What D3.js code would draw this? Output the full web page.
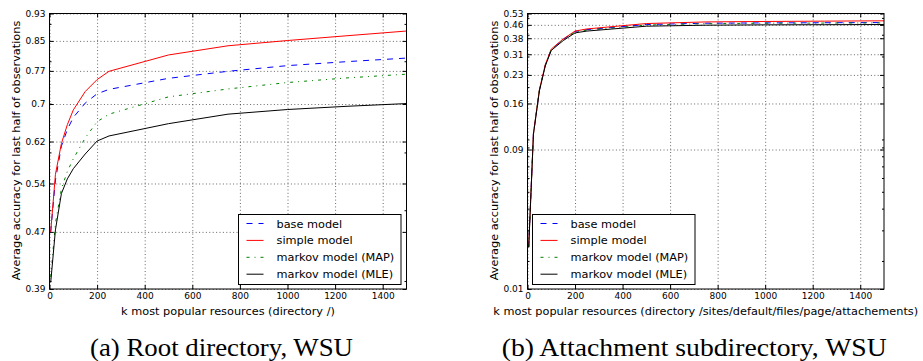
<!DOCTYPE html>
<html>
<head>
<meta charset="utf-8">
<script src="https://cdn.jsdelivr.net/npm/d3@7"></script>
<style>
body { margin: 0; background: #fff; }
svg { display: block; font-family: "DejaVu Sans", sans-serif; }
</style>
</head>
<body>
<svg id="chart" width="923" height="361"></svg>
<script>
// k values (x axis)
var kValues = [5, 25, 50, 75, 100, 150, 200, 250, 500, 750, 1000, 1250, 1500];
var xTicks = [0, 200, 400, 600, 800, 1000, 1200, 1400];
var seriesNames = ['base model', 'simple model', 'markov model (MAP)', 'markov model (MLE)'];

// (a) root directory
var rootBase   = [0.467, 0.550, 0.612, 0.645, 0.670, 0.701, 0.722, 0.732, 0.758, 0.775, 0.789, 0.799, 0.808];
var rootSimple = [0.467, 0.560, 0.617, 0.655, 0.686, 0.727, 0.755, 0.775, 0.816, 0.840, 0.854, 0.867, 0.880];
var rootMap    = [0.405, 0.480, 0.535, 0.565, 0.588, 0.628, 0.661, 0.677, 0.715, 0.733, 0.748, 0.759, 0.768];
var rootMle    = [0.398, 0.470, 0.527, 0.552, 0.570, 0.597, 0.622, 0.632, 0.657, 0.677, 0.687, 0.694, 0.700];
var rootTicks      = [0.39, 0.467, 0.544, 0.621, 0.699, 0.776, 0.853, 0.93];
var rootTickLabels = ['0.39', '0.47', '0.54', '0.62', '0.7', '0.77', '0.85', '0.93'];
var rootMinor      = [0.4, 0.5, 0.6, 0.7, 0.8, 0.9];

// (b) attachment subdirectory
var attBase   = [0.024, 0.108, 0.192, 0.268, 0.329, 0.376, 0.418, 0.428, 0.458, 0.466, 0.468, 0.469, 0.470];
var attSimple = [0.024, 0.108, 0.193, 0.270, 0.331, 0.378, 0.420, 0.432, 0.464, 0.474, 0.477, 0.479, 0.481];
var attMap    = [0.024, 0.108, 0.192, 0.267, 0.328, 0.374, 0.414, 0.425, 0.455, 0.463, 0.466, 0.467, 0.468];
var attMle    = [0.024, 0.107, 0.190, 0.265, 0.325, 0.370, 0.410, 0.420, 0.448, 0.454, 0.456, 0.457, 0.458];
var attTicks      = [0.0138, 0.0875, 0.161, 0.235, 0.309, 0.382, 0.456, 0.53];
var attTickLabels = ['0.01', '0.09', '0.16', '0.23', '0.31', '0.38', '0.46', '0.53'];
var attMinor      = [0.02, 0.03, 0.04, 0.05, 0.06, 0.07, 0.08, 0.09, 0.1, 0.2, 0.3, 0.4, 0.5];

var styles = [
	{color: '#0000ff', dash: '6,6'},
	{color: '#ff0000', dash: null},
	{color: '#008000', dash: '3,5,1,5'},
	{color: '#000000', dash: null}
];

var svg = d3.select('#chart');

drawPanel({
	left: 49.5, right: 406.5, top: 13.5, bottom: 289,
	ticks: rootTicks, labels: rootTickLabels, minor: rootMinor,
	series: [rootBase, rootSimple, rootMap, rootMle],
	xLabel: 'k most popular resources (directory /)',
	caption: '(a) Root directory, WSU', captionX: 221.5, captionW: 263,
	legendX: 238.5
});

drawPanel({
	left: 527.5, right: 884, top: 13.5, bottom: 289,
	ticks: attTicks, labels: attTickLabels, minor: attMinor,
	series: [attBase, attSimple, attMap, attMle],
	xLabel: 'k most popular resources (directory /sites/default/files/page/attachements)',
	caption: '(b) Attachment subdirectory, WSU', captionX: 694.2, captionW: 385,
	legendX: 532.5
});

function drawPanel(p){
	var w = p.right - p.left;
	var h = p.bottom - p.top;
	var g = svg.append('g').attr('transform', 'translate(' + p.left + ',' + p.top + ')');

	var x = d3.scaleLinear().domain([0, 1500]).range([0, w]);
	var y = d3.scaleLog().domain([p.ticks[0], p.ticks[p.ticks.length - 1]]).range([h, 0]);

	// grid
	g.append('g').attr('class', 'grid')
		.call(d3.axisBottom(x).tickValues(xTicks).tickSize(-h).tickFormat(''))
		.attr('transform', 'translate(0,' + h + ')');
	g.append('g').attr('class', 'grid')
		.call(d3.axisLeft(y).tickValues(p.ticks).tickSize(-w).tickFormat(''));
	g.selectAll('.grid .domain').remove();
	g.selectAll('.grid line')
		.attr('stroke', '#000').attr('stroke-width', 0.6).attr('stroke-dasharray', '1,2.4');

	// lines
	var clipId = 'clip' + Math.round(p.left);
	g.append('clipPath').attr('id', clipId).append('rect').attr('width', w).attr('height', h);
	var line = d3.line().x(function(d, i){ return x(kValues[i]); }).y(function(d){ return y(d); });
	var lg = g.append('g').attr('clip-path', 'url(#' + clipId + ')');
	p.series.forEach(function(s, i){
		lg.append('path').datum(s)
			.attr('d', line)
			.attr('fill', 'none')
			.attr('stroke', styles[i].color)
			.attr('stroke-width', 1)
			.attr('stroke-dasharray', styles[i].dash);
	});

	// axes (ticks inward, all sides)
	var ax = g.append('g').attr('transform', 'translate(0,' + h + ')')
		.call(d3.axisBottom(x).tickValues(xTicks).tickSize(-4).tickPadding(4).tickFormat(d3.format('d')));
	var axTop = g.append('g')
		.call(d3.axisTop(x).tickValues(xTicks).tickSize(-4).tickFormat(''));
	var ay = g.append('g')
		.call(d3.axisLeft(y).tickValues(p.ticks).tickSize(-4).tickPadding(4)
			.tickFormat(function(d, i){ return p.labels[i]; }));
	var ayR = g.append('g').attr('transform', 'translate(' + w + ',0)')
		.call(d3.axisRight(y).tickValues(p.ticks).tickSize(-4).tickFormat(''));
	var myL = g.append('g')
		.call(d3.axisLeft(y).tickValues(p.minor).tickSize(-2).tickFormat(''));
	var myR = g.append('g').attr('transform', 'translate(' + w + ',0)')
		.call(d3.axisRight(y).tickValues(p.minor).tickSize(-2).tickFormat(''));
	[ax, axTop, ay, ayR, myL, myR].forEach(function(a){
		a.select('.domain').remove();
		a.selectAll('line').attr('stroke', '#000').attr('stroke-width', 1);
		a.selectAll('text').attr('fill', '#000').style('font-size', '9px')
			.style('font-family', '"DejaVu Sans", sans-serif');
	});

	g.append('rect').attr('width', w).attr('height', h)
		.attr('fill', 'none').attr('stroke', '#000').attr('stroke-width', 1);

	// axis labels
	svg.append('text')
		.attr('x', p.left + w / 2).attr('y', 315)
		.attr('text-anchor', 'middle')
		.style('font-size', '11.3px')
		.text(p.xLabel);
	svg.append('text')
		.attr('transform', 'translate(' + (p.left - 29.5) + ',' + 150.5 + ') rotate(-90)')
		.attr('text-anchor', 'middle')
		.style('font-size', '11.3px')
		.text('Average accuracy for last half of observations');

	// legend
	var leg = svg.append('g').attr('transform', 'translate(' + p.legendX + ',214.5)');
	leg.append('rect').attr('width', 162.5).attr('height', 70)
		.attr('fill', '#fff').attr('stroke', '#000').attr('stroke-width', 1);
	seriesNames.forEach(function(name, i){
		var ry = 9 + i * 16.9;
		leg.append('line')
			.attr('x1', 8).attr('x2', 25).attr('y1', ry).attr('y2', ry)
			.attr('stroke', styles[i].color).attr('stroke-width', 1)
			.attr('stroke-dasharray', styles[i].dash);
		leg.append('text')
			.attr('x', 38).attr('y', ry).attr('dy', '0.36em')
			.style('font-size', '11.3px')
			.text(name);
	});

	// caption
	svg.append('text')
		.attr('x', p.captionX).attr('y', 356)
		.attr('text-anchor', 'middle')
		.attr('textLength', p.captionW).attr('lengthAdjust', 'spacingAndGlyphs')
		.style('font-family', '"Liberation Serif", "DejaVu Serif", serif')
		.style('font-size', '25px')
		.text(p.caption);
}
</script>
</body>
</html>
